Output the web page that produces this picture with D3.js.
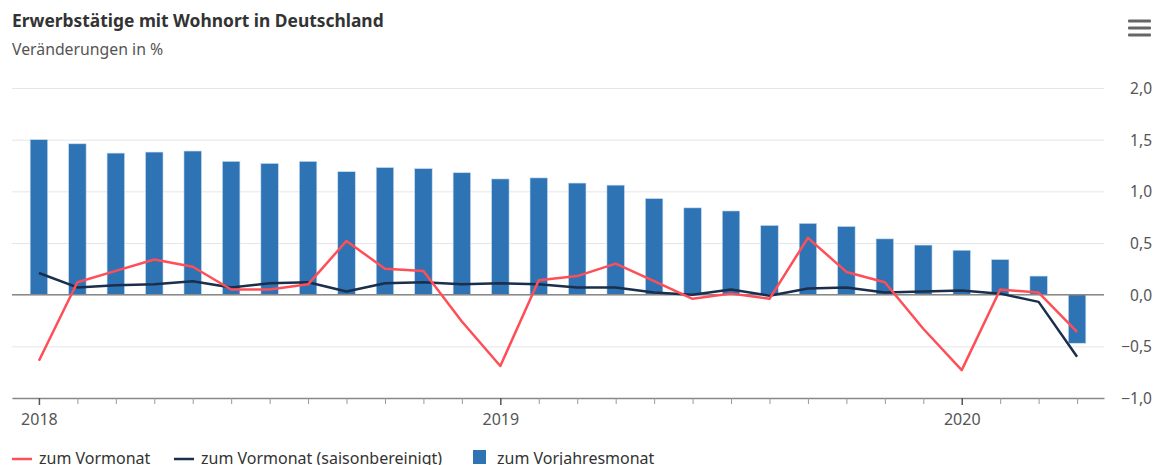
<!DOCTYPE html>
<html>
<head>
<meta charset="utf-8">
<script src="https://cdn.jsdelivr.net/npm/d3@7"></script>
<style>
    body { margin: 0; background: #fff; }
    svg { font-family: "Noto Sans", sans-serif; display: block; }
</style>
</head>
<body>
<svg id="chart" width="1157" height="465"></svg>
<script>
// months Jan 2018 .. Apr 2020
const months = ["2018-01", "2018-02", "2018-03", "2018-04", "2018-05", "2018-06", "2018-07", "2018-08", "2018-09", "2018-10", "2018-11", "2018-12",
    "2019-01", "2019-02", "2019-03", "2019-04", "2019-05", "2019-06", "2019-07", "2019-08", "2019-09", "2019-10", "2019-11", "2019-12",
    "2020-01", "2020-02", "2020-03", "2020-04"];

// zum Vorjahresmonat (bars)
const vorjahr = [1.50, 1.46, 1.37, 1.38, 1.39, 1.29, 1.27, 1.29, 1.19, 1.23, 1.22, 1.18,
    1.12, 1.13, 1.08, 1.06, 0.93, 0.84, 0.81, 0.67, 0.69, 0.66, 0.54, 0.48,
    0.43, 0.34, 0.18, -0.47];

// zum Vormonat
const vormonat = [-0.64, 0.12, 0.23, 0.34, 0.27, 0.05, 0.05, 0.10, 0.52, 0.25, 0.23, -0.26,
    -0.69, 0.14, 0.18, 0.30, 0.13, -0.04, 0.01, -0.04, 0.55, 0.22, 0.12, -0.33,
    -0.73, 0.05, 0.02, -0.36];

// zum Vormonat (saisonbereinigt)
const saison = [0.21, 0.07, 0.09, 0.10, 0.13, 0.07, 0.11, 0.12, 0.03, 0.11, 0.12, 0.10,
    0.11, 0.10, 0.07, 0.07, 0.02, 0.00, 0.05, -0.01, 0.06, 0.07, 0.02, 0.03,
    0.04, 0.01, -0.07, -0.60];

const yTicks = [-1, -0.5, 0, 0.5, 1, 1.5, 2];
const yearTicks = ["2018-01", "2019-01", "2020-01"];
const legendNames = ["zum Vormonat", "zum Vormonat (saisonbereinigt)", "zum Vorjahresmonat"];

const colBar = "#2e73b4", colRed = "#ff4e58", colDark = "#1b2e4b";

const de = d3.formatLocale({ decimal: ",", thousands: ".", grouping: [3], currency: ["", " €"] });
const fmt = de.format(".1f");

const svg = d3.select("#chart");

// title
svg.append("text")
    .attr("x", 12).attr("y", 27)
    .style("font-size", "17.4px").style("font-weight", "bold").style("fill", "#333")
    .text("Erwerbstätige mit Wohnort in Deutschland");
svg.append("text")
    .attr("x", 12).attr("y", 55)
    .style("font-size", "15.8px").style("fill", "#555")
    .text("Veränderungen in %");

// menu icon
[21, 28, 35].forEach(yy => {
    svg.append("rect").attr("x", 1128).attr("y", yy - 1.5).attr("width", 23).attr("height", 3)
        .attr("rx", 1).style("fill", "#666");
});

const x = d3.scaleLinear().domain([-0.7, 27.7]).range([12, 1104]);
const y = d3.scaleLinear().domain([-1, 2]).range([398, 88]);
const idx = d3.range(months.length);

// grid + y labels
const yAxis = svg.append("g")
    .attr("transform", "translate(1104,0)")
    .call(d3.axisRight(y).tickValues(yTicks).tickFormat(fmt).tickSize(-1092).tickPadding(0));
yAxis.select(".domain").remove();
yAxis.selectAll(".tick line").style("stroke", "#e6e6e6");
yAxis.selectAll(".tick text")
    .attr("x", 48).attr("text-anchor", "end").attr("dy", "0.36em")
    .style("font-size", "15.5px").style("fill", "#555").style("font-family", "Noto Sans, sans-serif");

// bars
const bw = 17.5;
svg.append("g").selectAll("rect")
    .data(idx)
    .enter().append("rect")
    .attr("x", i => x(i) - bw / 2)
    .attr("width", bw)
    .attr("y", i => y(Math.max(0, vorjahr[i])))
    .attr("height", i => Math.abs(y(vorjahr[i]) - y(0)))
    .style("fill", colBar)
    .style("stroke", "#c9dcf0").style("stroke-width", 0.6);

// zero line
svg.append("line")
    .attr("x1", 12).attr("x2", 1104).attr("y1", y(0)).attr("y2", y(0))
    .style("stroke", "#888").style("stroke-width", 1.5);

// x axis
const xAxis = svg.append("g")
    .attr("transform", "translate(0," + y(-1) + ")")
    .call(d3.axisBottom(x).tickValues(idx).tickSizeInner(6).tickSizeOuter(0)
        .tickFormat(i => yearTicks.includes(months[i]) ? months[i].slice(0, 4) : ""));
xAxis.select(".domain").style("stroke", "#888").style("stroke-width", 1.5);
xAxis.selectAll(".tick line").style("stroke", "#999");
xAxis.selectAll(".tick")
    .filter(i => yearTicks.includes(months[i]))
    .select("line").attr("y2", 7).style("stroke", "#555").style("stroke-width", 1.5);
xAxis.selectAll(".tick text")
    .attr("y", 16).attr("dy", "0.71em")
    .style("font-size", "16px").style("fill", "#555").style("font-family", "Noto Sans, sans-serif");

// lines
const line = s => d3.line().x(i => x(i)).y(i => y(s[i]))(idx);
svg.append("path").attr("d", line(saison))
    .style("fill", "none").style("stroke", colDark).style("stroke-width", 2.5).style("stroke-linejoin", "round");
svg.append("path").attr("d", line(vormonat))
    .style("fill", "none").style("stroke", colRed).style("stroke-width", 2.5).style("stroke-linejoin", "round");

// legend
const lg = svg.append("g").style("font-size", "16px").style("fill", "#333");
const lx = [12, 174, 473];
lg.append("line").attr("x1", lx[0]).attr("x2", lx[0] + 20).attr("y1", 459).attr("y2", 459)
    .style("stroke", colRed).style("stroke-width", 2.5);
lg.append("line").attr("x1", lx[1]).attr("x2", lx[1] + 20).attr("y1", 459).attr("y2", 459)
    .style("stroke", colDark).style("stroke-width", 2.5);
lg.append("rect").attr("x", lx[2]).attr("y", 450).attr("width", 13).attr("height", 14)
    .style("fill", colBar);
lg.selectAll("text")
    .data(legendNames)
    .enter().append("text")
    .attr("x", (d, i) => lx[i] + (i == 2 ? 24 : 27))
    .attr("y", 464)
    .text(d => d);
</script>
</body>
</html>
